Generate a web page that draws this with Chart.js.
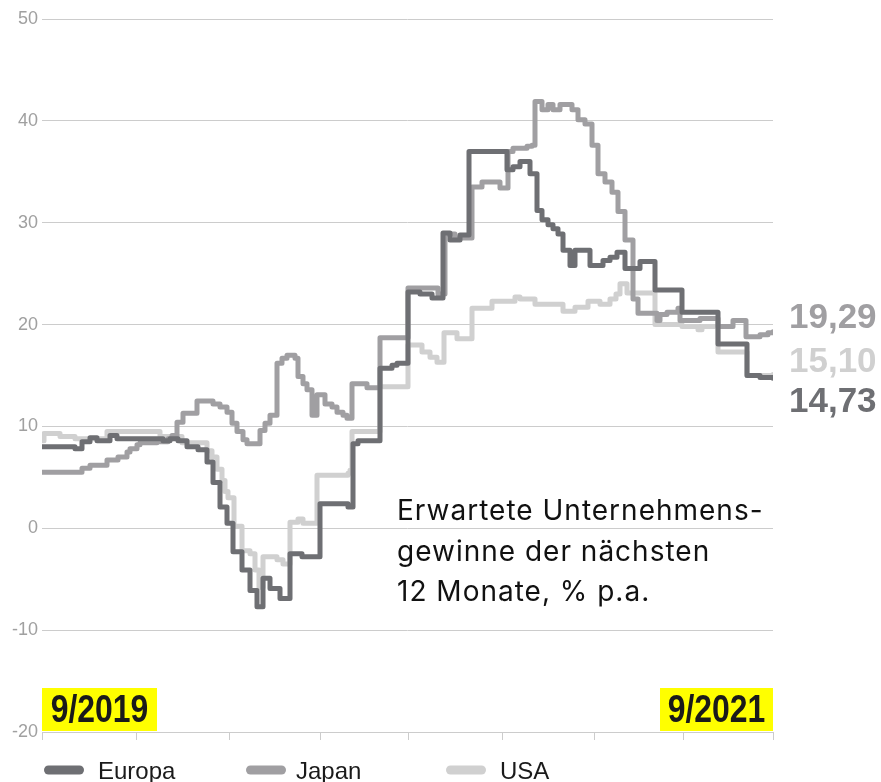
<!DOCTYPE html>
<html>
<head>
<meta charset="utf-8">
<script src="https://cdn.jsdelivr.net/npm/chart.js@4.4.1/dist/chart.umd.min.js"></script>
<style>
  html, body { margin: 0; padding: 0; background: #ffffff; }
  #wrap { width: 881px; height: 782px; position: relative; }
</style>
</head>
<body>
<div id="wrap"><canvas id="c" width="881" height="782"></canvas></div>
<script>
// ---------- DATA (x = day index from 9/2019, y = % p.a.) ----------
const seriesNames = ['Europa', 'Japan', 'USA'];
const dateLabels = ['9/2019', '9/2021'];
const annotationLines = ['Erwartete Unternehmens-', 'gewinne der nächsten', '12 Monate, % p.a.'];
const quarterTickDays = [0, 94, 187, 278, 366, 460, 552, 641, 731];
const yTickValues = [-20, -10, 0, 10, 20, 30, 40, 50];

const europaDays = [0, 33, 40, 48, 55, 68, 75, 121, 128, 136, 145, 156, 165, 171, 178, 185, 191, 200, 208, 215, 221, 228, 238, 248, 260, 278, 306, 311, 316, 338, 350, 355, 366, 378, 390, 401, 408, 418, 427, 465, 471, 478, 488, 495, 500, 506, 511, 516, 521, 528, 533, 548, 561, 568, 575, 583, 598, 613, 640, 676, 705, 718, 731];
const europaValues = [8.0, 7.8, 8.5, 8.9, 8.6, 9.1, 8.8, 8.6, 8.8, 8.6, 8.0, 7.7, 6.5, 4.5, 2.1, 0.5, -2.3, -4.1, -6.1, -7.7, -4.9, -5.9, -6.9, -2.5, -2.8, 2.4, 2.1, 8.3, 8.6, 15.7, 16.0, 16.2, 23.2, 23.0, 22.6, 29.0, 28.3, 28.8, 37.0, 35.2, 35.5, 36.0, 34.8, 31.2, 30.3, 29.8, 29.4, 28.9, 27.3, 25.8, 27.3, 25.8, 26.3, 26.6, 27.1, 25.5, 26.2, 23.4, 21.2, 18.1, 15.0, 14.8, 14.73];

const japanDays = [0, 40, 48, 65, 76, 85, 88, 95, 98, 115, 126, 130, 135, 141, 155, 171, 178, 185, 190, 195, 201, 205, 218, 223, 228, 235, 240, 245, 253, 256, 261, 265, 270, 275, 283, 290, 295, 301, 305, 310, 325, 338, 366, 396, 403, 413, 430, 440, 458, 466, 471, 485, 490, 493, 500, 506, 511, 518, 530, 536, 543, 550, 556, 563, 570, 576, 583, 591, 596, 615, 618, 625, 636, 638, 658, 676, 691, 704, 718, 726, 731];
const japanValues = [5.5, 5.9, 6.2, 6.7, 7.0, 7.5, 7.8, 8.2, 8.4, 8.5, 8.8, 9.1, 10.4, 11.3, 12.5, 12.2, 11.9, 11.4, 10.3, 9.5, 8.7, 8.3, 9.6, 10.3, 11.1, 16.2, 16.7, 17.0, 16.7, 14.9, 14.2, 13.6, 11.1, 13.1, 12.2, 11.9, 11.4, 11.1, 10.8, 14.2, 13.8, 18.7, 23.6, 23.0, 28.9, 28.5, 33.5, 34.0, 33.4, 37.0, 37.3, 37.5, 37.6, 41.9, 41.1, 41.6, 41.1, 41.6, 41.1, 40.1, 39.7, 37.6, 34.8, 34.0, 33.0, 31.1, 28.3, 22.5, 21.1, 20.4, 21.0, 21.2, 21.6, 20.4, 20.6, 19.8, 20.4, 18.8, 19.0, 19.2, 19.29];

const usaDays = [0, 2, 18, 33, 65, 118, 140, 165, 170, 175, 180, 183, 186, 192, 200, 208, 213, 217, 221, 235, 241, 248, 256, 261, 275, 306, 308, 310, 338, 366, 380, 388, 395, 402, 415, 430, 450, 473, 478, 493, 521, 533, 546, 558, 568, 574, 578, 585, 613, 640, 656, 660, 676, 705, 731];
const usaValues = [8.6, 9.3, 9.0, 8.8, 9.5, 9.0, 8.4, 7.6, 7.0, 5.8, 4.7, 3.6, 3.0, 0.2, -2.2, -2.5, -4.1, -5.8, -2.8, -3.1, -3.5, 0.6, 0.9, 0.5, 5.2, 5.4, 5.7, 9.5, 13.9, 18.0, 17.3, 16.8, 16.3, 19.2, 18.6, 21.6, 22.3, 22.7, 22.5, 22.0, 21.3, 21.7, 22.3, 22.0, 22.5, 23.0, 24.0, 23.1, 20.0, 19.8, 19.5, 19.8, 17.3, 15.0, 15.1];

// ---------- STYLE ----------
const colors = ['#6e6f73', '#a09fa2', '#d0d0d0'];
const FONT = '"Liberation Sans", Arial, Helvetica, sans-serif';

function pts(xs, ys) { return xs.map((x, i) => ({ x: x, y: ys[i] })); }
const seriesDays = [europaDays, japanDays, usaDays];
const seriesValues = [europaValues, japanValues, usaValues];

const datasets = seriesNames.map((name, i) => ({
  label: name,
  data: pts(seriesDays[i], seriesValues[i]),
  borderColor: colors[i],
  backgroundColor: colors[i],
  borderWidth: 5,
  stepped: 'before',
  pointRadius: 0,
  fill: false,
  borderCapStyle: 'round',
  borderJoinStyle: 'round'
}));

const valueLabelOffsets = [24, -13, -12]; // Europa, Japan, USA
const overlayPlugin = {
  id: 'overlay',
  afterDraw(chart) {
    const ctx = chart.ctx;
    const ca = chart.chartArea;
    const ys = chart.scales.y;
    ctx.save();

    // yellow date boxes with condensed bold labels
    const boxTop = 688, boxH = 43;
    const boxes = [{ x: ca.left, w: 115 }, { x: ca.right - 113, w: 113 }];
    ctx.textAlign = 'center';
    ctx.textBaseline = 'middle';
    boxes.forEach((b, i) => {
      ctx.fillStyle = '#ffff00';
      ctx.fillRect(b.x, boxTop, b.w, boxH);
      ctx.save();
      ctx.translate(b.x + b.w / 2, boxTop + boxH / 2 + 2);
      ctx.scale(0.84, 1);
      ctx.font = 'bold 38px ' + FONT;
      ctx.fillStyle = '#1a1a1a';
      ctx.fillText(dateLabels[i], 0, 0);
      ctx.restore();
    });

    // annotation
    ctx.font = '28px Inter, ' + FONT;
    ctx.textAlign = 'left';
    ctx.textBaseline = 'alphabetic';
    ctx.fillStyle = '#111111';
    try { ctx.letterSpacing = '1px'; } catch (e) {}
    const baselines = [520, 561, 601];
    annotationLines.forEach((t, i) => ctx.fillText(t, 397, baselines[i]));
    try { ctx.letterSpacing = '0px'; } catch (e) {}

    // end value labels
    ctx.font = 'bold 35px ' + FONT;
    ctx.textBaseline = 'middle';
    seriesValues.forEach((vals, i) => {
      const last = vals[vals.length - 1];
      const py = ys.getPixelForValue(last) + valueLabelOffsets[i];
      ctx.fillStyle = colors[i];
      ctx.fillText(last.toFixed(2).replace('.', ','), 789, py);
    });

    // legend
    const swX = [44, 246, 446];
    const txtX = [98, 296, 500];
    const ly = 770;
    ctx.lineCap = 'round';
    ctx.lineWidth = 9;
    ctx.font = '24px ' + FONT;
    ctx.textBaseline = 'alphabetic';
    seriesNames.forEach((n, i) => {
      ctx.strokeStyle = colors[i];
      ctx.beginPath();
      ctx.moveTo(swX[i] + 4.5, ly);
      ctx.lineTo(swX[i] + 40 - 4.5, ly);
      ctx.stroke();
      ctx.fillStyle = '#1a1a1a';
      ctx.fillText(n, txtX[i], 779);
    });
    ctx.restore();
  }
};

new Chart(document.getElementById('c'), {
  type: 'line',
  data: { datasets: datasets },
  options: {
    responsive: false,
    animation: false,
    layout: { padding: { left: 0, right: 108, top: 19, bottom: 0 } },
    plugins: { legend: { display: false }, tooltip: { enabled: false } },
    scales: {
      x: {
        type: 'linear',
        min: 0,
        max: 731,
        afterBuildTicks: (s) => { s.ticks = quarterTickDays.map(v => ({ value: v })); },
        ticks: { display: false },
        grid: { drawOnChartArea: false, drawTicks: true, tickLength: 8, color: '#cccccc', lineWidth: 1 },
        border: { display: true, color: '#cccccc' },
        afterFit: (s) => { s.height = 50; }
      },
      y: {
        min: -20,
        max: 50,
        afterBuildTicks: (s) => { s.ticks = yTickValues.map(v => ({ value: v })); },
        ticks: { padding: 4, color: '#a0a0a0', font: { family: FONT, size: 18 } },
        grid: { color: '#cccccc', drawTicks: false, lineWidth: 1 },
        border: { display: false },
        afterFit: (s) => { s.width = 42; }
      }
    }
  },
  plugins: [overlayPlugin]
});
</script>
</body>
</html>
